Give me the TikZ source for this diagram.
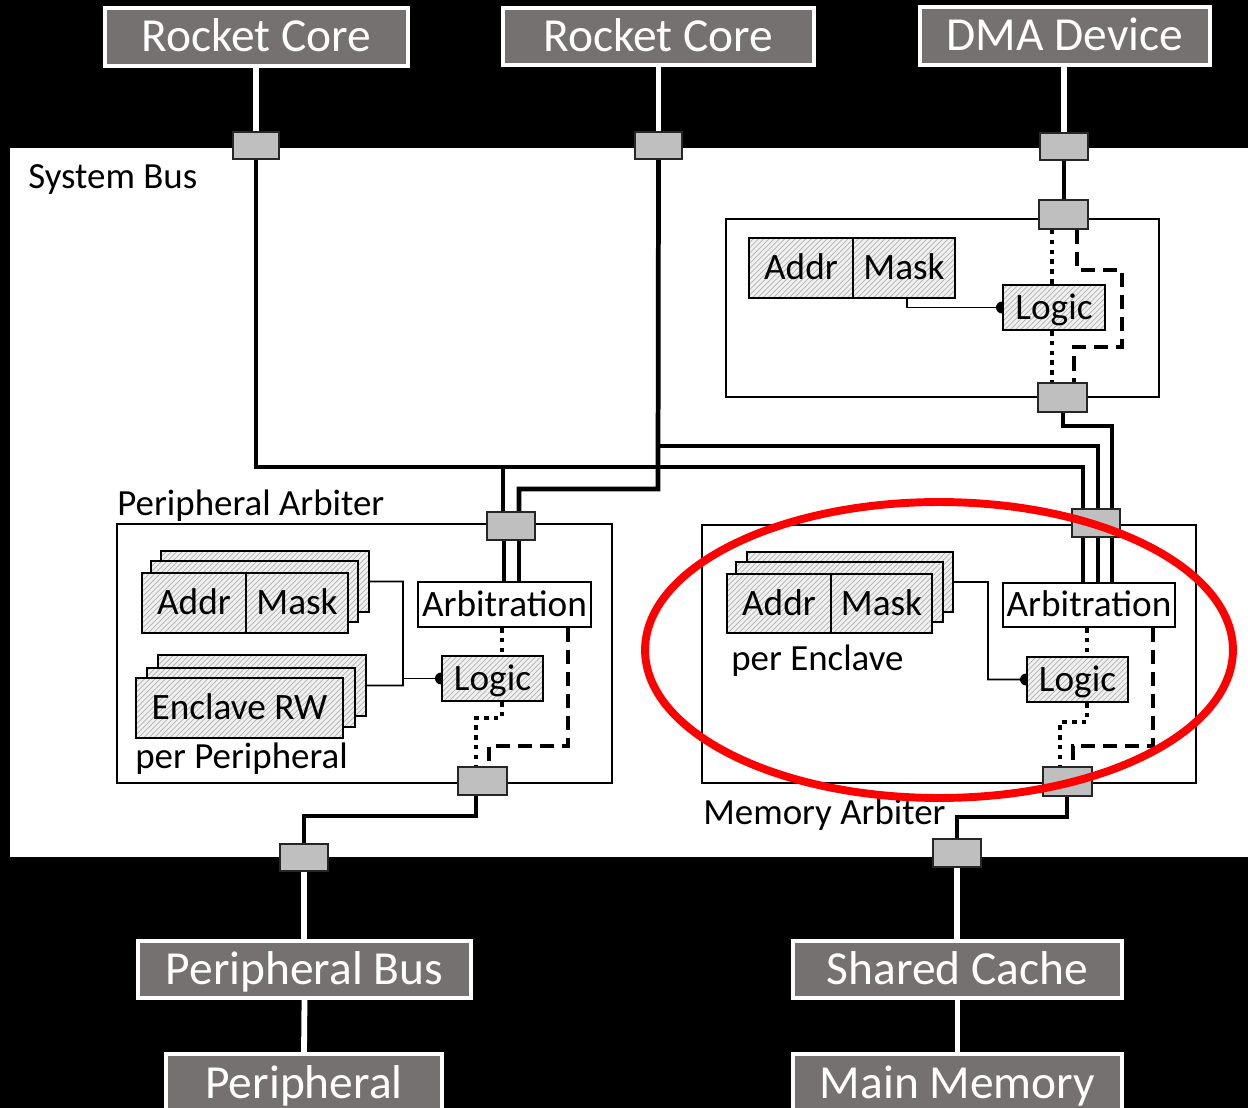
\documentclass[tikz,border=0pt]{standalone}
\usepackage{fontspec}
\setmainfont{Carlito}
\usetikzlibrary{fit,patterns}
\definecolor{boxgray}{HTML}{767171}
\definecolor{portgray}{HTML}{BFBFBF}
\pgfdeclarelayer{back}\pgfdeclarelayer{wires}\pgfdeclarelayer{front}
\pgfsetlayers{back,wires,main,front}
\tikzset{
 extbox/.style={draw=white, line width=2.4pt, fill=boxgray, inner sep=0pt},
 exttxt/.style={text=white, inner sep=0pt, font=\fontsize{27}{30}\selectfont, text height=17pt, text depth=0pt},
 intxt/.style={text=black, inner sep=0pt, font=\fontsize{21.2}{24}\selectfont, text height=13.4pt, text depth=0pt},
 xport/.style={draw=black!85, line width=1pt, fill=portgray, inner sep=0pt},
 xframe/.style={draw=black, line width=1.1pt, inner sep=0pt},
 hatchbox/.style={draw=black, line width=1.1pt, inner sep=0pt, preaction={fill=gray!12}, pattern=north east lines, pattern color=gray!60},
 plainbox/.style={draw=black, line width=1.1pt, fill=white, inner sep=0pt},
 xlbl/.style={inner sep=0pt, anchor=base west, font=\fontsize{21}{24}\selectfont},
 buswire/.style={line width=2.7pt, black},
 whitewire/.style={line width=3.3pt, white},
 thinwire/.style={line width=1pt, black},
 dotwire/.style={line width=2.6pt, dash pattern=on 2.6pt off 3pt},
 dashwire/.style={line width=2.6pt, dash pattern=on 8pt off 4.5pt},
}
\begin{document}
\begin{tikzpicture}[x=0.02cm,y=-0.02cm]
\useasboundingbox (0,0) rectangle (1248,1108);
\clip (0,0) rectangle (1248,1108);
\begin{pgfonlayer}{back}
\fill[black] (0,0) rectangle (1248,1108);
\fill[white] (10,148) rectangle (1248,857);
\end{pgfonlayer}

% external boxes
\node[extbox, fit={(105,8) (408,66)}, label={[exttxt]center:Rocket Core}] (rc1) {};
\node[extbox, fit={(503,8) (814,65)}, label={[exttxt]center:Rocket Core}] (rc2) {};
\node[extbox, fit={(920,7) (1210,65)}, label={[exttxt]center:DMA Device}] (dma) {};
\node[extbox, fit={(138,941) (471,998)}, label={[exttxt]center:Peripheral Bus}] (pbus) {};
\node[extbox, fit={(166,1054) (442,1114)}, label={[exttxt]center:Peripheral}] (periph) {};
\node[extbox, fit={(793,941) (1122,998)}, label={[exttxt]center:Shared Cache}] (scache) {};
\node[extbox, fit={(793,1054) (1122,1114)}, label={[exttxt]center:Main Memory}] (mainmem) {};

% containers
\node[xframe, fit={(726,219) (1159,397)}] (dmabox) {};
\node[xframe, fit={(117,524) (612,783)}] (parb) {};
\node[xframe, fit={(702,525) (1196,783)}] (marb) {};

% ports
\node[xport, fit={(233,132) (279,159)}] (p1) {};
\node[xport, fit={(635,132) (682,159)}] (p2) {};
\node[xport, fit={(1040,133) (1088,160)}] (p3) {};
\node[xport, fit={(1039,200) (1088,229)}] (pA) {};
\node[xport, fit={(1038,383) (1087,412)}] (pB) {};
\node[xport, fit={(487,512) (535,540)}] (pP) {};
\node[xport, fit={(458,767) (507,795)}] (pP2) {};
\node[xport, fit={(280,844) (328,871)}] (pP3) {};
\node[xport, fit={(1072,509) (1120,537)}] (pM) {};
\node[xport, fit={(1043,767) (1092,796)}] (pM2) {};
\node[xport, fit={(933,839) (981,867)}] (pM3) {};

% labels
\node[xlbl] (lsys) at (28,189) {System Bus};
\node[xlbl] (lparb) at (117,515) {Peripheral Arbiter};
\node[xlbl] (lpp) at (135,768) {per Peripheral};
\node[xlbl] (lpe) at (731,670) {per Enclave};
\node[xlbl] (lmarb) at (703,824) {Memory Arbiter};

% DMA filter
\node[hatchbox, fit={(749,238) (853,298)}, label={[intxt]center:Addr}] (dAddr) {};
\node[hatchbox, fit={(853,238) (955,298)}, label={[intxt]center:Mask}] (dMask) {};
\node[hatchbox, fit={(1003,285) (1105,330)}, label={[intxt]center:Logic}] (dLogic) {};

% peripheral arbiter
\node[hatchbox, fit={(161,551) (369,612)}] (pam3) {};
\node[hatchbox, fit={(151,561) (358,622)}] (pam2) {};
\node[hatchbox, fit={(142,573) (246,633)}, label={[intxt]center:Addr}] (pAddr) {};
\node[hatchbox, fit={(246,573) (348,633)}, label={[intxt]center:Mask}] (pMask) {};
\node[hatchbox, fit={(158,655) (366,716)}] (perw3) {};
\node[hatchbox, fit={(147,668) (355,727)}] (perw2) {};
\node[hatchbox, fit={(136,678) (343,738)}, label={[intxt]center:Enclave RW}] (perw) {};
\node[plainbox, fit={(418,582) (591,627)}, label={[intxt]center:Arbitration}] (pArb) {};
\node[hatchbox, fit={(442,656) (543,701)}, label={[intxt]center:Logic}] (pLogic) {};

% memory arbiter
\node[hatchbox, fit={(747,552) (953,612)}] (mam3) {};
\node[hatchbox, fit={(736,562) (943,622)}] (mam2) {};
\node[hatchbox, fit={(727,574) (831,633)}, label={[intxt]center:Addr}] (mAddr) {};
\node[hatchbox, fit={(831,574) (932,633)}, label={[intxt]center:Mask}] (mMask) {};
\node[plainbox, fit={(1003,583) (1175,627)}, label={[intxt]center:Arbitration}] (mArb) {};
\node[hatchbox, fit={(1027,657) (1128,702)}, label={[intxt]center:Logic}] (mLogic) {};

\begin{pgfonlayer}{wires}
% white external links
\draw[whitewire] (rc1.south -| p1.north) -- (p1.north);
\draw[whitewire] (rc2.south -| p2.north) -- (p2.north);
\draw[whitewire] (dma.south -| p3.north) -- (p3.north);
\draw[whitewire] (pP3.south) -- (pbus.north -| pP3.south);
\draw[whitewire] (pbus.south) -- (periph.north);
\draw[whitewire] (pM3.south) -- (scache.north -| pM3.south);
\draw[whitewire] (scache.south) -- (mainmem.north);

% system bus wiring
\coordinate (j1) at (503,467);
\coordinate (j2) at (658,446);
\draw[buswire] (p1.south) |- (1083,467) -- (pM.north -| 1083,0);
\draw[buswire] (j1) -- (pP.north -| 503,0);
\draw[buswire] (p2.south) -- (658,489) -- (519,489) -- (pP.north -| 519,0);
\draw[buswire] (j2) -- (1098,446) -- (pM.north -| 1098,0);
\draw[buswire] (pB.south -| 1063,0) -- (1063,426) -- (1112,426) -- (pM.north -| 1112,0);
\draw[buswire] (p3.south -| 1064,0) -- (pA.north -| 1064,0);

% DMA filter internals
\draw[thinwire] (dMask.south -| 907,0) |- (dLogic.west);
\fill (dLogic.west) circle (0.12cm);
\draw[dotwire] (pA.south -| 1052,0) -- (dLogic.north -| 1052,0);
\draw[dotwire] (dLogic.south -| 1052,0) -- (pB.north -| 1052,0);
\draw[dashwire] (pA.south -| 1077,0) -- (1077,270) -- (1122,270) -- (1122,347) -- (1074,347) -- (pB.north -| 1074,0);

% peripheral arbiter internals
\draw[buswire] (pP.south -| 504,0) -- (pArb.north -| 504,0);
\draw[buswire] (pP.south -| 519,0) -- (pArb.north -| 519,0);
\draw[thinwire] (pam3.east) -| (403,685.5) -- (perw3.east);
\draw[thinwire] (pLogic.west -| 403,0) -- (pLogic.west);
\fill (pLogic.west) circle (0.12cm);
\draw[dotwire] (pArb.south -| 502,0) -- (pLogic.north -| 502,0);
\draw[dotwire] (pLogic.south -| 502,0) -- (502,718) -- (476,718) -- (pP2.north -| 476,0);
\draw[dashwire] (pArb.south -| 568,0) -- (568,746) -- (489,746) -- (pP2.north -| 489,0);
\draw[buswire] (pP2.south -| 476,0) -- (476,816) -- (304,816) -- (pP3.north -| 304,0);

% memory arbiter internals
\draw[buswire] (pM.south -| 1083,0) -- (mArb.north -| 1083,0);
\draw[buswire] (pM.south -| 1098,0) -- (mArb.north -| 1098,0);
\draw[buswire] (pM.south -| 1112,0) -- (mArb.north -| 1112,0);
\draw[thinwire] (mam3.east) -| (988,679.5) -- (mLogic.west);
\fill (mLogic.west) circle (0.12cm);
\draw[dotwire] (mArb.south -| 1087,0) -- (mLogic.north -| 1087,0);
\draw[dotwire] (mLogic.south -| 1087,0) -- (1087,722) -- (1060,722) -- (pM2.north -| 1060,0);
\draw[dashwire] (mArb.south -| 1153,0) -- (1153,746) -- (1073,746) -- (pM2.north -| 1073,0);
\draw[buswire] (pM2.south -| 1067,0) -- (1067,817) -- (957,817) -- (pM3.north -| 957,0);
\end{pgfonlayer}

\begin{pgfonlayer}{front}
\draw[red, line width=4.5pt] (939,650) ellipse [x radius=5.88cm, y radius=2.96cm];
\end{pgfonlayer}
\end{tikzpicture}
\end{document}
